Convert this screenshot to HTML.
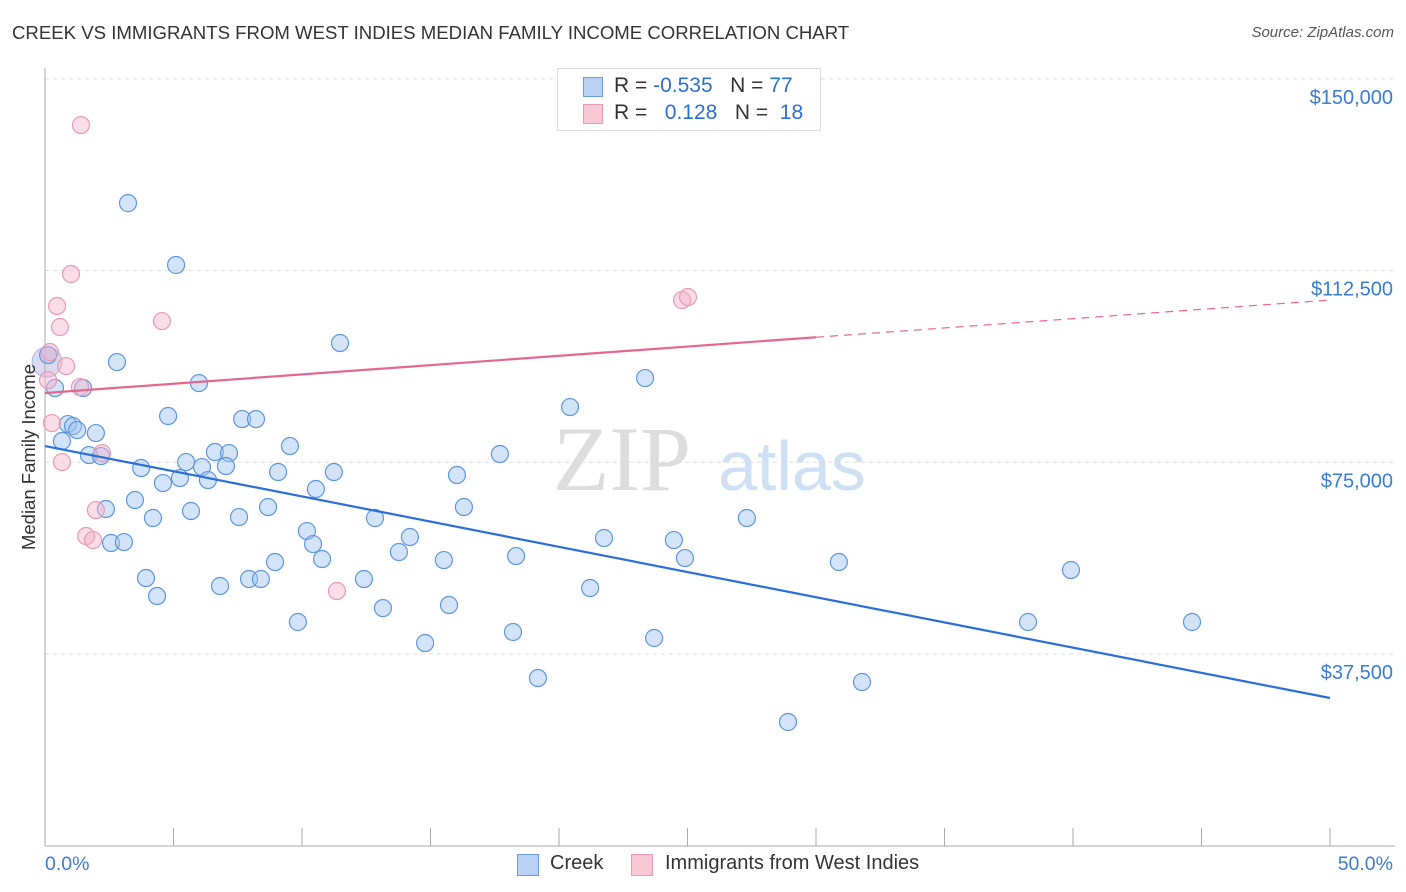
<!DOCTYPE html>
<html><head><meta charset="utf-8"><style>
body{margin:0;background:#fff;font-family:"Liberation Sans",sans-serif;}
#wrap{position:relative;width:1406px;height:892px;overflow:hidden;}
.t{position:absolute;white-space:nowrap;}
</style></head><body>
<div id="wrap">
<div class="t" style="left:12px;top:22px;font-size:18.6px;color:#333;">CREEK VS IMMIGRANTS FROM WEST INDIES MEDIAN FAMILY INCOME CORRELATION CHART</div>
<div class="t" style="right:12px;top:24px;font-size:15px;color:#555;font-style:italic;">Source: ZipAtlas.com</div>
<svg id="plot" width="1406" height="892" style="position:absolute;left:0;top:0"></svg>
</div>
<script>
const yTicks=[37500,75000,112500,150000];
const yTickLabels=["$37,500","$75,000","$112,500","$150,000"];
const creekX=[3.23,5.10,11.48,2.80,5.99,0.39,1.48,23.35,20.43,4.79,7.67,8.21,0.89,1.09,1.98,0.66,1.25,9.53,6.61,7.16,1.71,2.18,17.70,5.49,3.74,6.11,7.04,9.07,11.24,16.03,5.25,4.59,6.34,10.54,3.50,2.37,5.68,8.68,16.30,4.20,7.55,12.84,27.31,10.19,14.20,21.75,24.47,10.43,2.57,3.07,13.77,10.78,15.52,18.33,24.90,30.89,8.95,39.92,3.93,7.94,8.40,12.41,6.81,21.21,4.36,13.15,15.72,9.84,38.25,44.63,18.21,14.79,23.70,19.18,31.79,28.91,0.12];
const creekY=[125700,113600,98330,94610,90500,89530,89530,91480,85810,84050,83460,83460,82480,82090,80720,79160,81310,78180,77010,76810,76420,76220,76620,75050,73880,74070,74270,73100,73100,72510,71920,70940,71530,69770,67620,65860,65470,66250,66250,64100,64290,64100,64100,61550,60380,60190,59790,59010,59210,59400,57450,56080,55880,56660,56270,55490,55490,53930,52360,52170,52170,52170,50800,50410,48840,46490,47080,43760,43760,43760,41800,39650,40630,32800,32020,24200,95980];
const wiX=[1.40,1.01,0.47,0.58,4.55,24.79,25.02,0.19,0.82,1.36,0.27,0.66,2.22,1.98,1.60,1.87,11.36,0.12];
const wiY=[140970,111830,105570,101460,102630,106740,107330,96570,93830,89720,82680,75050,76810,65660,60580,59790,49820,91090];
const creekTrend=[78180,28890];
const wiTrend=[88550,106740];
const NS="http://www.w3.org/2000/svg";
const svg=document.getElementById('plot');
const X0=45,X1=1330,YB=845.7,PX=191.7/37500;
const sx=v=>X0+(v/50)*(X1-X0);
const sy=v=>YB-v*PX;
function mk(tag,attrs){const e=document.createElementNS(NS,tag);for(const k in attrs)e.setAttribute(k,attrs[k]);svg.appendChild(e);return e;}
yTicks.forEach((t,i)=>{
 const g=mk('line',{x1:X0,x2:1395,y1:sy(t),y2:sy(t),stroke:'#ddd','stroke-dasharray':'4,4'});
 
 
 const l=mk('text',{x:1393,y:sy(t)+25,'text-anchor':'end','font-size':20,fill:'#3a7bd5','font-family':'Liberation Sans'});
 l.textContent=yTickLabels[i];
 
 
});
let ax=mk('line',{x1:X0,x2:X0,y1:68,y2:846,stroke:'#aaa'});


let bx=mk('line',{x1:X0,x2:1395,y1:846,y2:846,stroke:'#aaa'});


for(let i=0;i<=10;i++){const tk=mk('line',{x1:sx(i*5),x2:sx(i*5),y1:828,y2:846,stroke:'#aaa'});
 
 }
const wm1=mk('text',{x:553,y:490,'font-size':92,fill:'#ddd','font-family':'Liberation Serif'});wm1.textContent='ZIP';


const wm2=mk('text',{x:718,y:490,'font-size':70,fill:'#cfe0f5','font-family':'Liberation Sans'});wm2.textContent='atlas';


const big=mk('circle',{cx:47,cy:362,r:15,fill:'rgba(180,170,220,0.45)',stroke:'rgba(120,150,220,0.6)'});


creekX.forEach((x,i)=>{const c=mk('circle',{cx:sx(x),cy:sy(creekY[i]),r:8.5,fill:'rgba(160,195,240,0.45)',stroke:'#5e95e0','stroke-width':1.2});
 
 });
wiX.forEach((x,i)=>{const c=mk('circle',{cx:sx(x),cy:sy(wiY[i]),r:8.5,fill:'rgba(245,180,200,0.45)',stroke:'#ec9ab4','stroke-width':1.2});
 
 });
const ct=mk('line',{x1:sx(0),y1:sy(creekTrend[0]),x2:sx(50),y2:sy(creekTrend[1]),stroke:'#2a6fd6','stroke-width':2.2});


const wy=v=>wiTrend[0]+(wiTrend[1]-wiTrend[0])*v/50;
const w1=mk('line',{x1:sx(0),y1:sy(wy(0)),x2:sx(30),y2:sy(wy(30)),stroke:'#e5678f','stroke-width':2.2});


const w2=mk('line',{x1:sx(30),y1:sy(wy(30)),x2:sx(50),y2:sy(wy(50)),stroke:'#e5678f','stroke-width':1.2,'stroke-dasharray':'8,6'});


</script>
<div class="t" style="left:45px;top:853px;font-size:19.5px;color:#3a7bd5;">0.0%</div>
<div class="t" style="right:13px;top:853px;font-size:19.5px;color:#3a7bd5;">50.0%</div>
<div class="t" style="left:-64px;top:446px;font-size:18.5px;color:#333;transform:rotate(-90deg);">Median Family Income</div>
<div style="position:absolute;left:557px;top:68px;width:262px;height:61px;border:1px solid #ddd;background:#fff;font-size:21px;">
 <div style="position:absolute;left:25px;top:8px;width:18px;height:18px;background:#b9d2f4;border:1px solid #6b9be0;"></div>
 <div class="t" style="left:56px;top:5px;color:#333;">R = <span style="color:#2a6fd6">-0.535</span>&nbsp;&nbsp;&nbsp;N = <span style="color:#2a6fd6">77</span></div>
 <div style="position:absolute;left:25px;top:35px;width:18px;height:18px;background:#f9c8d6;border:1px solid #ec9ab4;"></div>
 <div class="t" style="left:56px;top:32px;color:#333;">R = &nbsp;&nbsp;<span style="color:#2a6fd6">0.128</span>&nbsp;&nbsp;&nbsp;N = &nbsp;<span style="color:#2a6fd6">18</span></div>
</div>
<div style="position:absolute;left:517px;top:852px;font-size:20px;color:#333;">
 <span style="position:absolute;left:0;top:2px;width:20px;height:20px;background:#b9d2f4;border:1px solid #6b9be0;"></span>
 <span class="t" style="left:33px;top:0">Creek</span>
 <span style="position:absolute;left:114px;top:2px;width:20px;height:20px;background:#f9c8d6;border:1px solid #ec9ab4;"></span>
 <span class="t" style="left:148px;top:0">Immigrants from West Indies</span>
</div>
</body></html>
